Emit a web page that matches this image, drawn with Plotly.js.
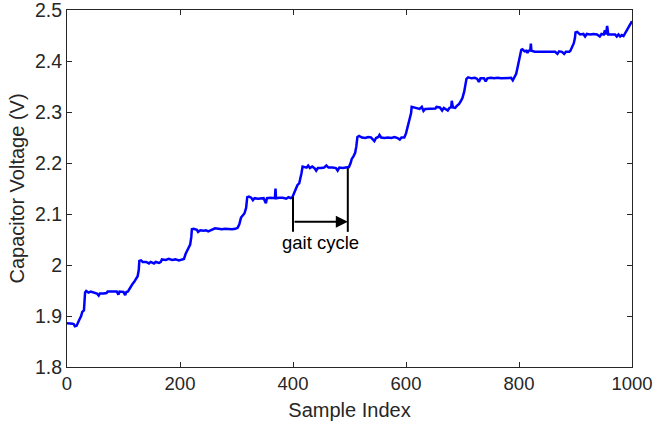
<!DOCTYPE html>
<html>
<head>
<meta charset="utf-8">
<script src="https://cdn.plot.ly/plotly-3.0.1.min.js"></script>
<style>html,body{margin:0;padding:0;background:#fff;}#chart{width:653px;height:426px;}</style>
</head>
<body>
<div id="chart"></div>
<script>
// Sample index (x) and capacitor voltage (y) vertices
const sampleIndex = [
  0,5,10,12,14,17,19,22,25,27,30,31,32,
  34,38,42,46,50,53,56,58,65,70,72,80,88,91,93,100,103,105,108,
  110,113,116,119,122,125,127,128,131,134,
  140,145,148,154,157,163,166,168,175,180,186,192,198,203,207,
  210,213,216,218,220,221,224,
  230,232,236,242,246,250,254,258,262,268,274,280,286,292,298,302,
  305,308,311,314,317,319,322,
  326,329,332,338,344,348,352,354,360,365,368,369,370,376,382,388,392,396,399,
  402,405,408,411,413,415,417,420,
  424,427,430,434,438,441,444,450,455,459,463,470,476,479,482,488,494,499,
  502,504,507,510,512,514,517,
  522,528,533,538,541,544,547,551,553,556,562,568,574,580,585,589,592,597,
  600,603,605,607,609,610,613,
  618,624,628,631,634,640,646,652,654,660,664,667,674,677,680,681,683,687,
  690,694,698,700,703,705,707,710,
  716,722,726,729,732,738,741,744,750,756,762,768,774,780,786,789,
  792,795,798,800,802,804,806,
  810,813,815,817,820,821,822,828,834,840,846,852,858,864,868,871,876,880,883,889,
  891,894,897,899,900,903,
  908,914,917,920,926,932,938,943,946,950,952,954,956,958,964,970,973,976,979,982,985,
  988,991,994,997,1000
];
const voltage = [
  1.886,1.886,1.885,1.884,1.880,1.881,1.887,1.893,1.900,1.908,1.911,1.930,1.946,
  1.949,1.946,1.948,1.946,1.945,1.944,1.940,1.944,1.944,1.945,1.948,1.948,1.948,1.942,1.948,1.947,1.941,1.947,1.948,
  1.952,1.958,1.963,1.967,1.973,1.978,1.990,2.008,2.009,2.006,
  2.006,2.003,2.006,2.003,2.006,2.004,2.006,2.011,2.010,2.012,2.010,2.011,2.009,2.010,2.012,
  2.022,2.030,2.036,2.040,2.055,2.070,2.071,
  2.069,2.065,2.068,2.067,2.068,2.066,2.068,2.069,2.072,2.071,2.070,2.071,2.070,2.070,2.071,2.073,
  2.080,2.093,2.097,2.101,2.112,2.133,2.134,
  2.132,2.127,2.131,2.130,2.130,2.131,2.121,2.131,2.132,2.131,2.131,2.150,2.131,2.132,2.132,2.130,2.133,2.131,2.133,
  2.141,2.148,2.157,2.160,2.168,2.180,2.193,2.192,
  2.191,2.195,2.190,2.193,2.190,2.185,2.190,2.190,2.191,2.195,2.191,2.191,2.190,2.185,2.191,2.190,2.191,2.192,
  2.200,2.208,2.213,2.220,2.232,2.251,2.253,
  2.250,2.249,2.251,2.250,2.246,2.243,2.249,2.251,2.255,2.250,2.249,2.250,2.249,2.251,2.249,2.246,2.250,2.250,
  2.258,2.272,2.280,2.285,2.298,2.310,2.309,
  2.307,2.306,2.310,2.302,2.306,2.306,2.306,2.307,2.310,2.309,2.303,2.308,2.303,2.308,2.309,2.322,2.309,2.308,
  2.312,2.316,2.323,2.328,2.340,2.352,2.365,2.368,
  2.366,2.367,2.365,2.359,2.366,2.366,2.360,2.366,2.367,2.366,2.367,2.366,2.366,2.366,2.367,2.362,
  2.368,2.375,2.390,2.400,2.408,2.422,2.423,
  2.419,2.420,2.416,2.420,2.421,2.434,2.420,2.418,2.418,2.419,2.419,2.418,2.419,2.418,2.414,2.419,2.418,2.414,2.418,2.418,
  2.420,2.428,2.435,2.445,2.456,2.457,
  2.452,2.453,2.448,2.453,2.452,2.453,2.452,2.448,2.453,2.452,2.460,2.452,2.469,2.452,2.452,2.452,2.448,2.452,2.448,2.451,2.449,
  2.455,2.460,2.465,2.471,2.478
];
// Axis ticks
const xTicks = [0,200,400,600,800,1000];
const yTicks = [1.8,1.9,2.0,2.1,2.2,2.3,2.4,2.5];
// Gait-cycle marker
const cycleStart = 400, cycleEnd = 497;
const cycleStartTop = 2.134, cycleEndTop = 2.19, cycleBottom = 2.065;
const cycleArrowY = 2.085;
const cycleLabel = "gait cycle";
const cycleLabelY = 2.044;

const fontFam = '"Liberation Sans", Arial, Helvetica, sans-serif';
const axisColor = '#262626';

const trace = {
  x: sampleIndex, y: voltage, type: 'scatter', mode: 'lines',
  line: {color: '#0000ff', width: 2.5}, hoverinfo: 'skip', cliponaxis: false
};

const layout = {
  width: 653, height: 426,
  margin: {l: 67, r: 21, t: 10, b: 59, pad: 0},
  paper_bgcolor: '#ffffff', plot_bgcolor: '#ffffff',
  showlegend: false,
  font: {family: fontFam, color: axisColor, size: 19},
  xaxis: {
    range: [0, 1000], tickvals: xTicks, ticktext: xTicks.map(String),
    ticks: 'inside', ticklen: 5, tickwidth: 1, tickcolor: axisColor,
    showline: true, linecolor: axisColor, linewidth: 1, mirror: 'ticks',
    showgrid: false, zeroline: false, ticklabeloverflow: 'allow',
    tickfont: {size: 18.5, color: axisColor, family: fontFam},
    title: {text: 'Sample Index', font: {size: 20, color: axisColor, family: fontFam}, standoff: 9}
  },
  yaxis: {
    range: [1.8, 2.5], tickvals: yTicks, ticktext: yTicks.map(v => String(Math.round(v*10)/10)),
    ticks: 'inside', ticklen: 5, tickwidth: 1, tickcolor: axisColor,
    showline: true, linecolor: axisColor, linewidth: 1, mirror: 'ticks',
    showgrid: false, zeroline: false, ticklabeloverflow: 'allow',
    tickfont: {size: 19.5, color: axisColor, family: fontFam},
    title: {text: 'Capacitor Voltage (V)', font: {size: 20, color: axisColor, family: fontFam}, standoff: 4}
  },
  shapes: [
    {type: 'line', xref: 'x', yref: 'y', x0: cycleStart, x1: cycleStart, y0: cycleBottom, y1: cycleStartTop, line: {color: '#000', width: 2}},
    {type: 'line', xref: 'x', yref: 'y', x0: cycleEnd, x1: cycleEnd, y0: cycleBottom, y1: cycleEndTop, line: {color: '#000', width: 2}}
  ],
  annotations: [
    {x: cycleEnd, y: cycleArrowY, ax: cycleStart, ay: cycleArrowY, xref: 'x', yref: 'y', axref: 'x', ayref: 'y',
     showarrow: true, arrowhead: 2, arrowsize: 1.2, arrowwidth: 2, arrowcolor: '#000', text: '', standoff: 0},
    {x: (cycleStart + cycleEnd) / 2, y: cycleLabelY, xref: 'x', yref: 'y', text: cycleLabel, showarrow: false,
     font: {size: 18.5, color: '#000', family: fontFam}}
  ]
};

Plotly.newPlot('chart', [trace], layout, {displayModeBar: false, staticPlot: true});
</script>
</body>
</html>
